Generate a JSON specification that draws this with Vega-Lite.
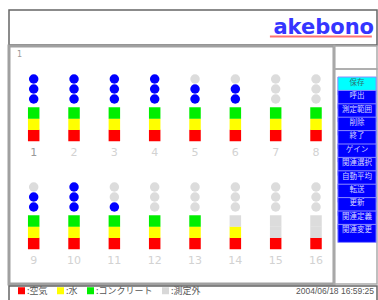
{
  "$schema": "https://vega.github.io/schema/vega-lite/v6.json",
  "padding": {"left": 7, "top": 9, "right": 3, "bottom": 3},
  "background": "white",
  "spacing": -3,
  "config": {"view": {"stroke": "#999"}, "concat": {"spacing": 0}},
  "resolve": {"scale": {"color": "independent"}, "legend": {"color": "independent"}},
  "datasets": {
    "tubes": [
      {"tube":1,"tier":1,"col":1,"slot":1,"kind":"空気"},{"tube":1,"tier":1,"col":1,"slot":2,"kind":"水"},{"tube":1,"tier":1,"col":1,"slot":3,"kind":"コンクリート"},{"tube":1,"tier":1,"col":1,"slot":4,"kind":"点灯"},{"tube":1,"tier":1,"col":1,"slot":5,"kind":"点灯"},{"tube":1,"tier":1,"col":1,"slot":6,"kind":"点灯"},
      {"tube":2,"tier":1,"col":2,"slot":1,"kind":"空気"},{"tube":2,"tier":1,"col":2,"slot":2,"kind":"水"},{"tube":2,"tier":1,"col":2,"slot":3,"kind":"コンクリート"},{"tube":2,"tier":1,"col":2,"slot":4,"kind":"点灯"},{"tube":2,"tier":1,"col":2,"slot":5,"kind":"点灯"},{"tube":2,"tier":1,"col":2,"slot":6,"kind":"点灯"},
      {"tube":3,"tier":1,"col":3,"slot":1,"kind":"空気"},{"tube":3,"tier":1,"col":3,"slot":2,"kind":"水"},{"tube":3,"tier":1,"col":3,"slot":3,"kind":"コンクリート"},{"tube":3,"tier":1,"col":3,"slot":4,"kind":"点灯"},{"tube":3,"tier":1,"col":3,"slot":5,"kind":"点灯"},{"tube":3,"tier":1,"col":3,"slot":6,"kind":"点灯"},
      {"tube":4,"tier":1,"col":4,"slot":1,"kind":"空気"},{"tube":4,"tier":1,"col":4,"slot":2,"kind":"水"},{"tube":4,"tier":1,"col":4,"slot":3,"kind":"コンクリート"},{"tube":4,"tier":1,"col":4,"slot":4,"kind":"点灯"},{"tube":4,"tier":1,"col":4,"slot":5,"kind":"点灯"},{"tube":4,"tier":1,"col":4,"slot":6,"kind":"点灯"},
      {"tube":5,"tier":1,"col":5,"slot":1,"kind":"空気"},{"tube":5,"tier":1,"col":5,"slot":2,"kind":"水"},{"tube":5,"tier":1,"col":5,"slot":3,"kind":"コンクリート"},{"tube":5,"tier":1,"col":5,"slot":4,"kind":"点灯"},{"tube":5,"tier":1,"col":5,"slot":5,"kind":"点灯"},{"tube":5,"tier":1,"col":5,"slot":6,"kind":"消灯"},
      {"tube":6,"tier":1,"col":6,"slot":1,"kind":"空気"},{"tube":6,"tier":1,"col":6,"slot":2,"kind":"水"},{"tube":6,"tier":1,"col":6,"slot":3,"kind":"コンクリート"},{"tube":6,"tier":1,"col":6,"slot":4,"kind":"点灯"},{"tube":6,"tier":1,"col":6,"slot":5,"kind":"点灯"},{"tube":6,"tier":1,"col":6,"slot":6,"kind":"消灯"},
      {"tube":7,"tier":1,"col":7,"slot":1,"kind":"空気"},{"tube":7,"tier":1,"col":7,"slot":2,"kind":"水"},{"tube":7,"tier":1,"col":7,"slot":3,"kind":"コンクリート"},{"tube":7,"tier":1,"col":7,"slot":4,"kind":"消灯"},{"tube":7,"tier":1,"col":7,"slot":5,"kind":"消灯"},{"tube":7,"tier":1,"col":7,"slot":6,"kind":"消灯"},
      {"tube":8,"tier":1,"col":8,"slot":1,"kind":"空気"},{"tube":8,"tier":1,"col":8,"slot":2,"kind":"水"},{"tube":8,"tier":1,"col":8,"slot":3,"kind":"コンクリート"},{"tube":8,"tier":1,"col":8,"slot":4,"kind":"消灯"},{"tube":8,"tier":1,"col":8,"slot":5,"kind":"消灯"},{"tube":8,"tier":1,"col":8,"slot":6,"kind":"消灯"},
      {"tube":9,"tier":2,"col":1,"slot":1,"kind":"空気"},{"tube":9,"tier":2,"col":1,"slot":2,"kind":"水"},{"tube":9,"tier":2,"col":1,"slot":3,"kind":"コンクリート"},{"tube":9,"tier":2,"col":1,"slot":4,"kind":"点灯"},{"tube":9,"tier":2,"col":1,"slot":5,"kind":"点灯"},{"tube":9,"tier":2,"col":1,"slot":6,"kind":"消灯"},
      {"tube":10,"tier":2,"col":2,"slot":1,"kind":"空気"},{"tube":10,"tier":2,"col":2,"slot":2,"kind":"水"},{"tube":10,"tier":2,"col":2,"slot":3,"kind":"コンクリート"},{"tube":10,"tier":2,"col":2,"slot":4,"kind":"点灯"},{"tube":10,"tier":2,"col":2,"slot":5,"kind":"点灯"},{"tube":10,"tier":2,"col":2,"slot":6,"kind":"点灯"},
      {"tube":11,"tier":2,"col":3,"slot":1,"kind":"空気"},{"tube":11,"tier":2,"col":3,"slot":2,"kind":"水"},{"tube":11,"tier":2,"col":3,"slot":3,"kind":"コンクリート"},{"tube":11,"tier":2,"col":3,"slot":4,"kind":"点灯"},{"tube":11,"tier":2,"col":3,"slot":5,"kind":"消灯"},{"tube":11,"tier":2,"col":3,"slot":6,"kind":"消灯"},
      {"tube":12,"tier":2,"col":4,"slot":1,"kind":"空気"},{"tube":12,"tier":2,"col":4,"slot":2,"kind":"水"},{"tube":12,"tier":2,"col":4,"slot":3,"kind":"コンクリート"},{"tube":12,"tier":2,"col":4,"slot":4,"kind":"消灯"},{"tube":12,"tier":2,"col":4,"slot":5,"kind":"消灯"},{"tube":12,"tier":2,"col":4,"slot":6,"kind":"消灯"},
      {"tube":13,"tier":2,"col":5,"slot":1,"kind":"空気"},{"tube":13,"tier":2,"col":5,"slot":2,"kind":"水"},{"tube":13,"tier":2,"col":5,"slot":3,"kind":"コンクリート"},{"tube":13,"tier":2,"col":5,"slot":4,"kind":"消灯"},{"tube":13,"tier":2,"col":5,"slot":5,"kind":"消灯"},{"tube":13,"tier":2,"col":5,"slot":6,"kind":"消灯"},
      {"tube":14,"tier":2,"col":6,"slot":1,"kind":"空気"},{"tube":14,"tier":2,"col":6,"slot":2,"kind":"水"},{"tube":14,"tier":2,"col":6,"slot":3,"kind":"測定外"},{"tube":14,"tier":2,"col":6,"slot":4,"kind":"消灯"},{"tube":14,"tier":2,"col":6,"slot":5,"kind":"消灯"},{"tube":14,"tier":2,"col":6,"slot":6,"kind":"消灯"},
      {"tube":15,"tier":2,"col":7,"slot":1,"kind":"空気"},{"tube":15,"tier":2,"col":7,"slot":2,"kind":"測定外"},{"tube":15,"tier":2,"col":7,"slot":3,"kind":"測定外"},{"tube":15,"tier":2,"col":7,"slot":4,"kind":"消灯"},{"tube":15,"tier":2,"col":7,"slot":5,"kind":"消灯"},{"tube":15,"tier":2,"col":7,"slot":6,"kind":"消灯"},
      {"tube":16,"tier":2,"col":8,"slot":1,"kind":"空気"},{"tube":16,"tier":2,"col":8,"slot":2,"kind":"測定外"},{"tube":16,"tier":2,"col":8,"slot":3,"kind":"測定外"},{"tube":16,"tier":2,"col":8,"slot":4,"kind":"消灯"},{"tube":16,"tier":2,"col":8,"slot":5,"kind":"消灯"},{"tube":16,"tier":2,"col":8,"slot":6,"kind":"消灯"}
    ],
    "buttons": [
      {"label":"保存","state":"選択"},{"label":"呼出","state":"通常"},{"label":"測定範囲","state":"通常"},{"label":"削除","state":"通常"},
      {"label":"終了","state":"通常"},{"label":"ゲイン","state":"通常"},{"label":"関連選択","state":"通常"},{"label":"自動平均","state":"通常"},
      {"label":"転送","state":"通常"},{"label":"更新","state":"通常"},{"label":"関連定義","state":"通常"},{"label":"関連変更","state":"通常"}
    ],
    "legend": [{"kind":"空気"},{"kind":"水"},{"kind":"コンクリート"},{"kind":"測定外"}],
    "clock": [{"time":"2004/06/18 16:59:25"}],
    "brand": [{"name":"akebono"}]
  },
  "vconcat": [
    {
      "width": 368, "height": 35,
      "view": {"stroke": "#666", "strokeWidth": 1.5},
      "data": {"name": "brand"},
      "layer": [
        {"mark": {"type": "rule", "color": "#ff7070", "strokeWidth": 2},
         "encoding": {
           "x": {"datum": 0.709, "type": "quantitative", "scale": {"domain": [0, 1]}, "axis": null},
           "x2": {"datum": 0.986},
           "y": {"datum": 0.243, "type": "quantitative", "scale": {"domain": [0, 1]}, "axis": null}}},
        {"mark": {"type": "text", "align": "right", "baseline": "alphabetic", "font": "DejaVu Sans", "fontSize": 21, "fontWeight": "bold", "color": "#3535ff"},
         "encoding": {
           "x": {"datum": 0.992, "type": "quantitative"},
           "y": {"datum": 0.314, "type": "quantitative"},
           "text": {"field": "name"}}}
      ]
    },
    {
      "spacing": 0,
      "bounds": "flush",
      "resolve": {"scale": {"color": "independent"}, "legend": {"color": "independent"}},
      "hconcat": [
        {
          "width": 325, "height": 238,
          "view": {"stroke": "#a0a0a0", "strokeWidth": 3},
          "title": {"text": "1", "anchor": "start", "frame": "group", "offset": -13, "dx": 8, "fontSize": 8, "fontWeight": "normal", "color": "#999", "font": "DejaVu Sans"},
          "data": {"name": "tubes"},
          "encoding": {
            "x": {"field": "col", "type": "quantitative", "scale": {"domain": [0.3876, 8.446], "nice": false, "zero": false}, "axis": null},
            "y": {"field": "tier", "type": "ordinal", "scale": {"type": "band", "domain": [1, 2], "paddingInner": 0, "paddingOuter": 0.1019}, "axis": null},
            "yOffset": {"field": "slot", "type": "quantitative", "scale": {"domain": [0, 1, 3, 4, 6], "range": [96, 78.5, 56, 42, 22], "zero": false, "nice": false}}
          },
          "layer": [
            {"transform": [{"filter": "datum.slot <= 3"}],
             "mark": {"type": "point", "shape": "square", "filled": true, "size": 132, "opacity": 1, "strokeWidth": 0},
             "encoding": {"color": {"field": "kind", "type": "nominal", "scale": {"domain": ["空気","水","コンクリート","測定外","点灯","消灯"], "range": ["#ff0000","#ffff00","#00ee00","#dcdcdc","#0000ff","#dcdcdc"]}, "legend": null}}},
            {"transform": [{"filter": "datum.slot >= 4"}],
             "mark": {"type": "point", "shape": "circle", "filled": true, "size": 90, "opacity": 1, "strokeWidth": 0},
             "encoding": {"color": {"field": "kind", "type": "nominal", "legend": null}}},
            {"transform": [{"filter": "datum.slot == 1"}],
             "mark": {"type": "text", "fontSize": 11, "font": "DejaVu Sans", "baseline": "middle"},
             "encoding": {
               "yOffset": {"datum": 0, "type": "quantitative"},
               "text": {"field": "tube", "type": "nominal"},
               "color": {"condition": {"test": "datum.tube == 1", "value": "#9a9a9a"}, "value": "#d2d2d2"}}}
          ]
        },
        {
          "spacing": 0,
          "bounds": "flush",
          "vconcat": [
            {
              "width": 43, "height": 23,
              "view": {"stroke": "#aaa", "strokeWidth": 1.5},
              "data": {"name": "clock"},
              "mark": {"type": "text", "text": ""},
              "encoding": {}
            },
            {
              "width": 43, "height": 215,
              "view": {"stroke": "#aaa", "strokeWidth": 1.5},
              "data": {"name": "buttons"},
              "encoding": {
                "y": {"field": "label", "type": "nominal", "sort": null, "scale": {"type": "band", "paddingInner": 0.135, "paddingOuter": 0, "range": [8, 167]}, "axis": null}
              },
              "layer": [
                {"mark": {"type": "bar", "stroke": "#8c8cff", "strokeWidth": 1},
                 "encoding": {
                   "x": {"datum": 0.09, "type": "quantitative", "scale": {"domain": [0, 1]}, "axis": null},
                   "x2": {"datum": 0.98},
                   "color": {"field": "state", "type": "nominal", "scale": {"domain": ["選択","通常"], "range": ["#00ffff","#0000ff"]}, "legend": null}}},
                {"mark": {"type": "text", "fontSize": 7.5, "font": "Noto Sans CJK JP", "baseline": "middle"},
                 "encoding": {
                   "x": {"datum": 0.535, "type": "quantitative"},
                   "text": {"field": "label"},
                   "color": {"condition": {"test": "datum.state == '選択'", "value": "#2f6f6f"}, "value": "#d4d4ff"}}}
              ]
            }
          ]
        }
      ]
    },
    {
      "width": 368, "height": 15,
      "view": {"stroke": "#666", "strokeWidth": 1.5},
      "layer": [
        {"data": {"name": "legend"},
         "mark": {"type": "point", "filled": true, "opacity": 0},
         "encoding": {"color": {"field": "kind", "type": "nominal", "sort": null,
           "scale": {"domain": ["空気","水","コンクリート","測定外"], "range": ["#ff0000","#ffff00","#00ee00","#d8d8d8"]},
           "legend": {"orient": "none", "legendX": 8, "legendY": 0, "direction": "horizontal", "title": null, "padding": 0,
             "symbolType": "square", "symbolSize": 49, "symbolOpacity": 1, "symbolStrokeWidth": 0,
             "labelExpr": "':' + datum.label", "labelFont": "Noto Sans CJK JP", "labelFontSize": 9, "labelColor": "#555", "labelOffset": 1, "columnPadding": 8}}}},
        {"data": {"name": "clock"},
         "mark": {"type": "text", "align": "right", "baseline": "middle", "font": "Liberation Sans", "fontSize": 8.5, "color": "#555"},
         "encoding": {
           "x": {"datum": 0.992, "type": "quantitative", "scale": {"domain": [0, 1]}, "axis": null},
           "y": {"datum": 0.67, "type": "quantitative", "scale": {"domain": [0, 1]}, "axis": null},
           "text": {"field": "time"}}}
      ]
    }
  ]
}
